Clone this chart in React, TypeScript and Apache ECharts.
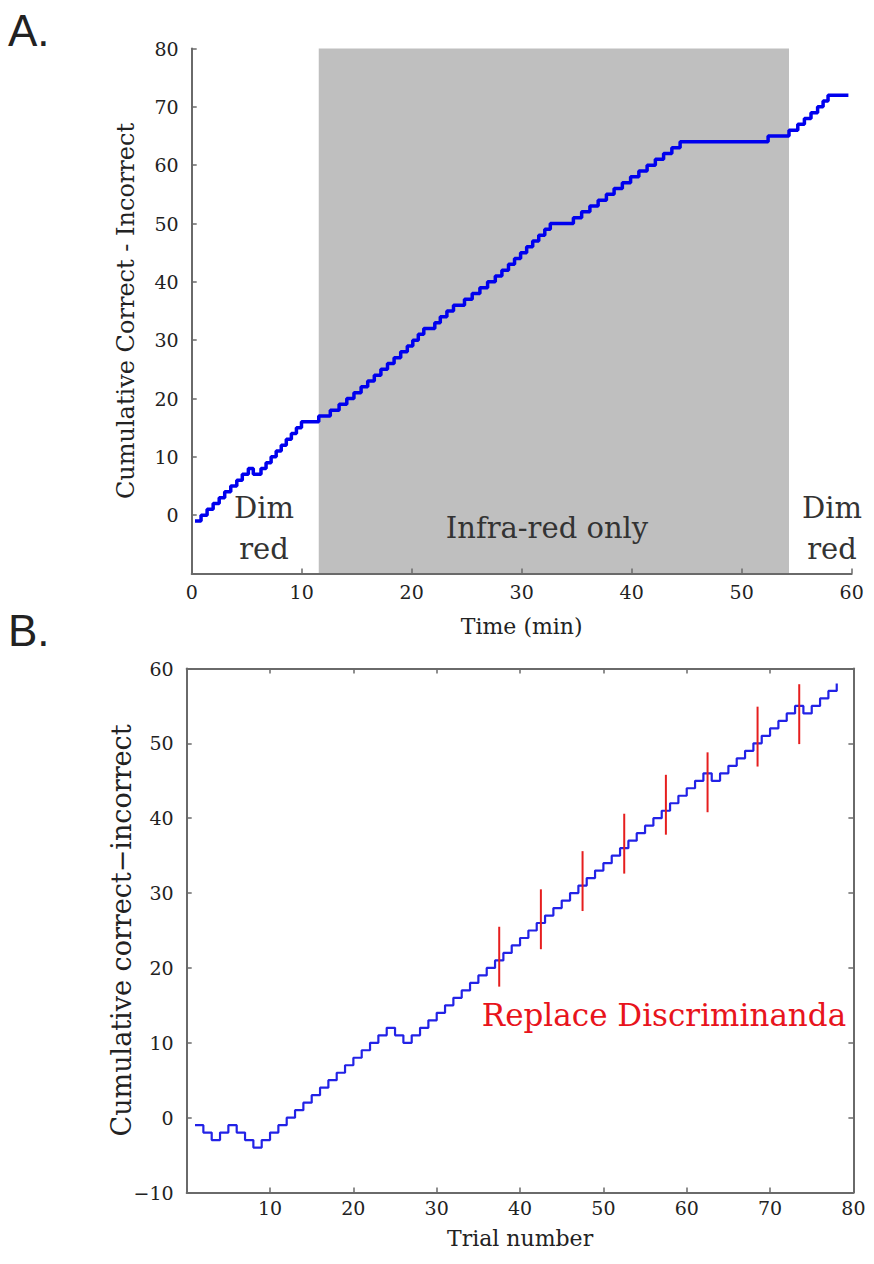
import React, { useEffect, useRef } from "react";
import * as echarts from "echarts";

// ---------- Panel A data: time (min) vs cumulative correct - incorrect ----------
const aTimes = [
  0.3, 0.85, 1.4, 1.95, 2.5, 3.0, 3.55, 4.1, 4.6, 5.15,
  5.6, 6.3, 6.76, 7.22, 7.68, 8.14, 8.6, 9.06, 9.52, 9.98,
  11.55, 12.6, 13.4, 14.1, 14.75, 15.4, 16.0, 16.6, 17.2, 17.8,
  18.4, 19.0, 19.6, 20.1, 20.6, 21.1, 22.1, 22.6, 23.2, 23.8,
  24.8, 25.5, 26.2, 26.9, 27.6, 28.2, 28.8, 29.35, 29.9, 30.45,
  31.0, 31.55, 32.1, 32.6, 34.7, 35.45, 36.2, 36.95, 37.7, 38.4,
  39.15, 39.9, 40.65, 41.4, 42.15, 42.9, 43.65, 44.4, 52.4, 54.3,
  55.1, 55.7, 56.3, 56.9, 57.4, 57.85, 59.7,
];
const aValues = [
  -1, 0, 1, 2, 3, 4, 5, 6, 7, 8,
  7, 8, 9, 10, 11, 12, 13, 14, 15, 16,
  17, 18, 19, 20, 21, 22, 23, 24, 25, 26,
  27, 28, 29, 30, 31, 32, 33, 34, 35, 36,
  37, 38, 39, 40, 41, 42, 43, 44, 45, 46,
  47, 48, 49, 50, 51, 52, 53, 54, 55, 56,
  57, 58, 59, 60, 61, 62, 63, 64, 65, 66,
  67, 68, 69, 70, 71, 72, 72,
];
// infra-red only period (min)
const irStart = 11.55;
const irEnd = 54.3;
const aXTicks = { min: 0, max: 60, interval: 10 };
const aYTicks = { min: -10, max: 80, interval: 10 };

// ---------- Panel B data: trial number vs cumulative correct-incorrect ----------
const bTrials = [
  1, 2, 3, 4, 5, 6, 7, 8, 9, 10, 11, 12, 13, 14, 15, 16, 17, 18, 19, 20,
  21, 22, 23, 24, 25, 26, 27, 28, 29, 30, 31, 32, 33, 34, 35, 36, 37, 38, 39, 40,
  41, 42, 43, 44, 45, 46, 47, 48, 49, 50, 51, 52, 53, 54, 55, 56, 57, 58, 59, 60,
  61, 62, 63, 64, 65, 66, 67, 68, 69, 70, 71, 72, 73, 74, 75, 76, 77, 78,
];
const bValues = [
  -1, -2, -3, -2, -1, -2, -3, -4, -3, -2, -1, 0, 1, 2, 3, 4, 5, 6, 7, 8,
  9, 10, 11, 12, 11, 10, 11, 12, 13, 14, 15, 16, 17, 18, 19, 20, 21, 22, 23, 24,
  25, 26, 27, 28, 29, 30, 31, 32, 33, 34, 35, 36, 37, 38, 39, 40, 41, 42, 43, 44,
  45, 46, 45, 46, 47, 48, 49, 50, 51, 52, 53, 54, 55, 54, 55, 56, 57, 58,
];
// "Replace Discriminanda" markers
const replaceTrials = [37.5, 42.5, 47.5, 52.5, 57.5, 62.5, 68.5, 73.5];
const replaceLow = [17.5, 22.5, 27.6, 32.6, 37.8, 40.8, 46.9, 49.9];
const replaceHigh = [25.5, 30.5, 35.6, 40.6, 45.8, 48.8, 54.9, 57.9];
const bXTicks = { min: 0, max: 80, interval: 10 };
const bYTicks = { min: -10, max: 60, interval: 10 };

const SERIF = "DejaVu Serif";
const AXIS_COLOR = "#6a6a6a";
const TEXT_COLOR = "#222";

export default function App() {
  const ref = useRef<HTMLDivElement>(null);

  useEffect(() => {
    document.body.style.margin = "0";
    if (!ref.current) return;
    const chart = echarts.init(ref.current, null, { renderer: "svg" });

    const axisLine = { show: true, onZero: false, lineStyle: { color: AXIS_COLOR, width: 2 } };
    const axisTick = { show: true, inside: true, length: 5, lineStyle: { color: AXIS_COLOR, width: 1.5 } };
    const label = (extra: any = {}) => ({
      fontFamily: SERIF,
      fontSize: 19,
      color: TEXT_COLOR,
      ...extra,
    });

    const aData = aTimes.map((t, i) => [t, aValues[i]]);
    const bData = bTrials.map((t, i) => [t, bValues[i]]);
    const redData = replaceTrials.map((t, i) => [t, replaceLow[i], replaceHigh[i]]);

    const option: any = {
      animation: false,
      backgroundColor: "#ffffff",
      grid: [
        { left: 191.7, top: 48.5, width: 660, height: 525 },
        { left: 186.7, top: 668.5, width: 666.7, height: 524 },
      ],
      xAxis: [
        {
          gridIndex: 0,
          type: "value",
          ...aXTicks,
          z: 10,
          axisLine,
          axisTick,
          splitLine: { show: false },
          axisLabel: label({ margin: 9 }),
          name: "Time (min)",
          nameLocation: "middle",
          nameGap: 42,
          nameMoveOverlap: false,
          nameTextStyle: { fontFamily: SERIF, fontSize: 22, color: TEXT_COLOR },
        },
        {
          gridIndex: 1,
          type: "value",
          position: "bottom",
          ...bXTicks,
          z: 10,
          axisLine,
          axisTick,
          splitLine: { show: false },
          axisLabel: label({ margin: 6, formatter: (v: number) => (v === 0 ? "" : String(v)) }),
          name: "Trial number",
          nameLocation: "middle",
          nameGap: 35,
          nameMoveOverlap: false,
          nameTextStyle: { fontFamily: SERIF, fontSize: 22, color: TEXT_COLOR },
        },
        {
          gridIndex: 1,
          type: "value",
          position: "top",
          ...bXTicks,
          z: 10,
          axisLine,
          axisTick,
          splitLine: { show: false },
          axisLabel: { show: false },
        },
      ],
      yAxis: [
        {
          gridIndex: 0,
          type: "value",
          ...aYTicks,
          z: 10,
          axisLine,
          axisTick,
          splitLine: { show: false },
          axisLabel: label({ margin: 13, formatter: (v: number) => (v === -10 ? "" : String(v)) }),
          name: "Cumulative Correct - Incorrect",
          nameLocation: "middle",
          nameGap: 54,
          nameMoveOverlap: false,
          nameTextStyle: { fontFamily: SERIF, fontSize: 24, color: TEXT_COLOR },
        },
        {
          gridIndex: 1,
          type: "value",
          position: "left",
          ...bYTicks,
          z: 10,
          axisLine,
          axisTick,
          splitLine: { show: false },
          axisLabel: label({ margin: 13, formatter: (v: number) => String(v).replace("-", "\u2212") }),
          name: "Cumulative correct\u2212incorrect",
          nameLocation: "middle",
          nameGap: 52,
          nameMoveOverlap: false,
          nameTextStyle: { fontFamily: SERIF, fontSize: 27, color: TEXT_COLOR },
        },
        {
          gridIndex: 1,
          type: "value",
          position: "right",
          ...bYTicks,
          z: 10,
          axisLine,
          axisTick,
          splitLine: { show: false },
          axisLabel: { show: false },
        },
      ],
      series: [
        {
          type: "custom",
          xAxisIndex: 0,
          yAxisIndex: 0,
          z: 1,
          silent: true,
          data: [[irStart, irEnd]],
          renderItem: (params: any, api: any) => {
            const p0 = api.coord([api.value(0), aYTicks.max]);
            const p1 = api.coord([api.value(1), aYTicks.min]);
            return {
              type: "rect",
              shape: { x: p0[0], y: p0[1], width: p1[0] - p0[0], height: p1[1] - p0[1] },
              style: { fill: "#bfbfbf" },
            };
          },
        },
        {
          type: "line",
          xAxisIndex: 0,
          yAxisIndex: 0,
          z: 3,
          step: "end",
          showSymbol: false,
          data: aData,
          lineStyle: { color: "#0000ee", width: 3.5 },
        },
        {
          type: "line",
          xAxisIndex: 1,
          yAxisIndex: 1,
          z: 3,
          step: "end",
          showSymbol: false,
          data: bData,
          lineStyle: { color: "#2222e6", width: 2.2 },
        },
        {
          type: "custom",
          xAxisIndex: 1,
          yAxisIndex: 1,
          z: 4,
          silent: true,
          data: redData,
          renderItem: (params: any, api: any) => {
            const p0 = api.coord([api.value(0), api.value(1)]);
            const p1 = api.coord([api.value(0), api.value(2)]);
            return {
              type: "line",
              shape: { x1: p0[0], y1: p0[1], x2: p1[0], y2: p1[1] },
              style: { stroke: "#e61e1e", lineWidth: 2 },
            };
          },
        },
      ],
      graphic: [
        {
          type: "text",
          left: 8,
          top: 8,
          style: { text: "A.", font: "44px 'Liberation Sans'", fill: "#222" },
        },
        {
          type: "text",
          left: 8,
          top: 608,
          style: { text: "B.", font: "44px 'Liberation Sans'", fill: "#222" },
        },
        {
          type: "text",
          x: 264,
          y: 528,
          style: {
            text: "Dim\nred",
            font: `29px '${SERIF}'`,
            fill: "#333",
            align: "center",
            verticalAlign: "middle",
            lineHeight: 41,
          },
          z: 20,
        },
        {
          type: "text",
          x: 832,
          y: 528,
          style: {
            text: "Dim\nred",
            font: `29px '${SERIF}'`,
            fill: "#333",
            align: "center",
            verticalAlign: "middle",
            lineHeight: 41,
          },
          z: 20,
        },
        {
          type: "text",
          x: 547,
          y: 528,
          style: {
            text: "Infra-red only",
            font: `29px '${SERIF}'`,
            fill: "#333",
            align: "center",
            verticalAlign: "middle",
          },
          z: 20,
        },
        {
          type: "text",
          x: 664,
          y: 1015,
          style: {
            text: "Replace Discriminanda",
            font: `31px '${SERIF}'`,
            fill: "#e8141c",
            align: "center",
            verticalAlign: "middle",
          },
          z: 20,
        },
      ],
    };

    chart.setOption(option);
    return () => chart.dispose();
  }, []);

  return <div ref={ref} style={{ width: 874, height: 1264 }} />;
}
